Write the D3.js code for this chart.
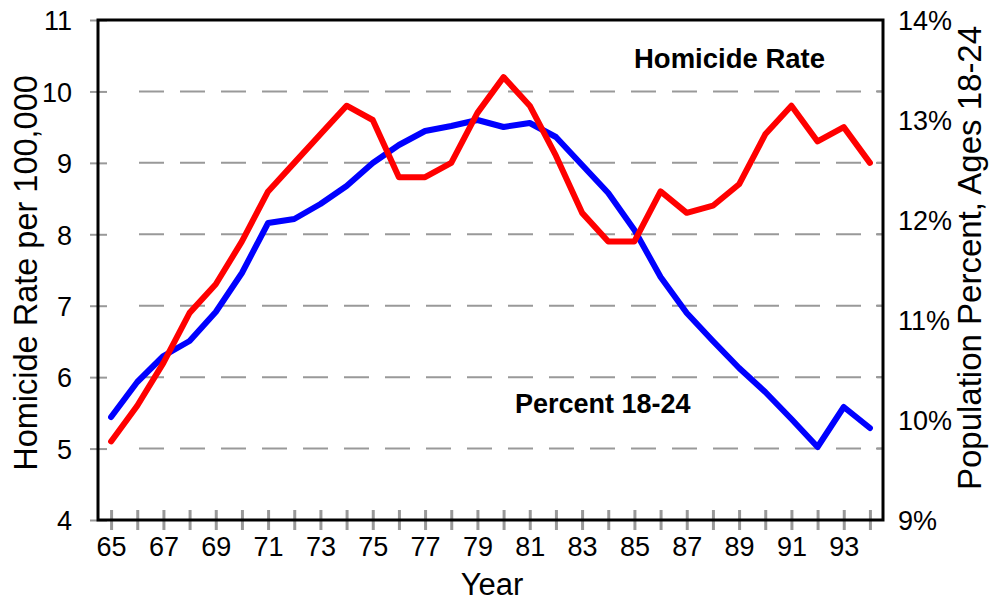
<!DOCTYPE html>
<html>
<head>
<meta charset="utf-8">
<script src="https://cdn.jsdelivr.net/npm/d3@7"></script>
<style>
  body { margin: 0; background: #fff; }
  svg { font-family: "Liberation Sans", Arial, sans-serif; }
</style>
</head>
<body>
<svg width="991" height="603"></svg>
<script>
// data
let years = d3.range(65, 95);
let homicideRate = [5.1, 5.6, 6.2, 6.9, 7.3, 7.9, 8.6, 9.0, 9.4, 9.8,
                    9.6, 8.8, 8.8, 9.0, 9.7, 10.2, 9.8, 9.1, 8.3, 7.9,
                    7.9, 8.6, 8.3, 8.4, 8.7, 9.4, 9.8, 9.3, 9.5, 9.0];
let percent1824 = [10.03, 10.38, 10.64, 10.79, 11.08, 11.47, 11.97, 12.01, 12.16, 12.34,
                   12.57, 12.75, 12.89, 12.94, 13.0, 12.93, 12.97, 12.83, 12.55, 12.27,
                   11.9, 11.43, 11.07, 10.79, 10.52, 10.28, 10.01, 9.73, 10.13, 9.92];
let leftTicks = [4, 5, 6, 7, 8, 9, 10, 11];
let rightTicks = [9, 10, 11, 12, 13, 14];

let plotL = 98, plotR = 883, plotT = 20, plotB = 520;
let svg = d3.select('svg');

let x = d3.scalePoint().domain(years).range([plotL, plotR]).padding(0.5),
    yL = d3.scaleLinear().domain([4, 11]).range([plotB, plotT]),
    yR = d3.scaleLinear().domain([9, 14]).range([plotB, plotT]);

// dashed gridlines
svg.append('g')
.selectAll('line')
.data(leftTicks.filter(d => d > 4 && d < 11))
.enter()
.append('line')
.attr('x1', plotL + 41).attr('x2', plotR)
.attr('y1', d => yL(d)).attr('y2', d => yL(d))
.attr('stroke', '#999').attr('stroke-width', 2)
.attr('stroke-dasharray', '25,16');

// left axis
let gl = svg.append('g')
    .attr('transform', 'translate(' + plotL + ',0)')
    .call(d3.axisLeft(yL).tickValues(leftTicks).tickFormat(d3.format('d')).tickSizeOuter(0));
gl.select('.domain').remove();
gl.selectAll('.tick line').attr('x1', 9).attr('x2', -8).attr('stroke', '#999').attr('stroke-width', 2);
gl.selectAll('.tick text').attr('x', -26).attr('dy', '0.36em')
  .style('font-size', '27px').attr('fill', '#000');

// right axis: ticks follow the left gridlines, labels follow the percent scale
svg.append('g')
.selectAll('line')
.data(leftTicks.filter(d => d > 4 && d < 11))
.enter()
.append('line')
.attr('x1', plotR - 7).attr('x2', plotR)
.attr('y1', d => yL(d)).attr('y2', d => yL(d))
.attr('stroke', '#999').attr('stroke-width', 2);

let gr = svg.append('g')
    .attr('transform', 'translate(' + plotR + ',0)')
    .call(d3.axisRight(yR).tickValues(rightTicks).tickFormat(d => d + '%').tickSize(0));
gr.select('.domain').remove();
gr.selectAll('.tick text').attr('x', 15).attr('dy', '0.36em')
  .style('font-size', '27px').attr('fill', '#000');

// bottom axis
let gb = svg.append('g')
    .attr('transform', 'translate(0,' + plotB + ')')
    .call(d3.axisBottom(x).tickFormat(d => d % 2 ? d : '').tickSizeOuter(0));
gb.select('.domain').remove();
gb.selectAll('.tick line').attr('y1', -10).attr('y2', 10).attr('stroke', '#999').attr('stroke-width', 3);
gb.selectAll('.tick text').attr('y', 36).attr('dy', 0)
  .style('font-size', '27px').attr('fill', '#000');

// frame
svg.append('rect')
.attr('x', plotL).attr('y', plotT)
.attr('width', plotR - plotL).attr('height', plotB - plotT)
.attr('fill', 'none').attr('stroke', '#000').attr('stroke-width', 3);

// series
let lineL = d3.line().x((d, i) => x(years[i])).y(d => yL(d)),
    lineR = d3.line().x((d, i) => x(years[i])).y(d => yR(d));

svg.append('path')
.attr('d', lineR(percent1824))
.attr('fill', 'none').attr('stroke', '#0000ff').attr('stroke-width', 6)
.attr('stroke-linejoin', 'round').attr('stroke-linecap', 'round');

svg.append('path')
.attr('d', lineL(homicideRate))
.attr('fill', 'none').attr('stroke', '#ff0000').attr('stroke-width', 6)
.attr('stroke-linejoin', 'round').attr('stroke-linecap', 'round');

// labels
svg.append('text').attr('x', 634).attr('y', 68)
.style('font-size', '27.5px').style('font-weight', 'bold').text('Homicide Rate');
svg.append('text').attr('x', 515).attr('y', 413)
.style('font-size', '27px').style('font-weight', 'bold').text('Percent 18-24');

svg.append('text').attr('x', 492).attr('y', 595)
.attr('text-anchor', 'middle').style('font-size', '31px').text('Year');
svg.append('text')
.attr('transform', 'translate(37,273) rotate(-90)')
.attr('text-anchor', 'middle').style('font-size', '32.5px').text('Homicide Rate per 100,000');
svg.append('text')
.attr('transform', 'translate(981,258) rotate(-90)')
.attr('text-anchor', 'middle').style('font-size', '33px').text('Population Percent, Ages 18-24');
</script>
</body>
</html>
